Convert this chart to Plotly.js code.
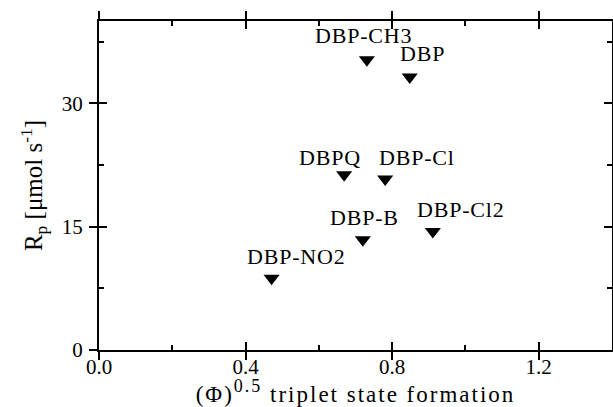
<!DOCTYPE html>
<html>
<head>
<meta charset="utf-8">
<script src="https://cdn.plot.ly/plotly-3.0.1.min.js"></script>
<style>
  html, body { margin: 0; padding: 0; background: #fff; }
  #chart { width: 613px; height: 407px; }
  .annotation-text { letter-spacing: 0.8px; }
  .g-xtitle text { letter-spacing: 2px; }
</style>
</head>
<body>
<div id="chart"></div>
<script>
// Data
const compounds = ["DBP-CH3", "DBP", "DBPQ", "DBP-Cl", "DBP-B", "DBP-Cl2", "DBP-NO2"];
const phiSqrt   = [0.731, 0.848, 0.669, 0.781, 0.720, 0.911, 0.471];
const rateRp    = [35.3, 33.2, 21.3, 20.8, 13.4, 14.4, 8.72];
const xTickVals = [0.0, 0.4, 0.8, 1.2];
const xTickText = ["0.0", "0.4", "0.8", "1.2"];
const yTickVals = [0, 15, 30];
const yTickText = ["0", "15", "30"];

// Label placement (pixels relative to each marker)
const labelDx = [-3, 13, -14, 32, 2, 28, 25];
const labelDy = [24, 23, 17, 21, 22, 22, 21.5];

const serif = "'Liberation Serif', 'Times New Roman', Times, serif";

const traces = [
  {
    x: phiSqrt, y: rateRp, type: "scatter", mode: "markers",
    marker: { symbol: "triangle-down", size: 14, color: "#000" },
    hoverinfo: "x+y", showlegend: false
  },
  {
    x: phiSqrt, y: rateRp, type: "scatter", mode: "markers",
    xaxis: "x2", yaxis: "y2",
    marker: { size: 1, opacity: 0 }, hoverinfo: "skip", showlegend: false
  }
];

const annotations = compounds.map((name, i) => ({
  x: phiSqrt[i], y: rateRp[i], xref: "x", yref: "y",
  text: name, showarrow: false,
  xanchor: "center", yanchor: "middle",
  xshift: labelDx[i], yshift: labelDy[i],
  font: { family: serif, size: 22, color: "#000" }
}));

const layout = {
  width: 613, height: 407,
  margin: { l: 99, r: 1, t: 21, b: 57 },
  paper_bgcolor: "#fff", plot_bgcolor: "#fff",
  font: { family: serif, color: "#000" },
  xaxis: {
    range: [0, 1.4], tickmode: "array", tickvals: xTickVals, ticktext: xTickText,
    ticks: "outside", ticklen: 8, tickwidth: 2, tickcolor: "#000",
    showline: true, linewidth: 2, linecolor: "#000", mirror: "ticks",
    showgrid: false, zeroline: false,
    ticklabelstandoff: -11,
    tickfont: { family: serif, size: 21, color: "#000" },
    title: {
      text: "(Φ)<sup><span style=\"font-size:18px\">0.5</span></sup> triplet state formation",
      font: { family: serif, size: 23, color: "#000" },
      standoff: 24
    }
  },
  yaxis: {
    range: [0, 40], tickmode: "array", tickvals: yTickVals, ticktext: yTickText,
    ticks: "outside", ticklen: 8, tickwidth: 2, tickcolor: "#000",
    showline: true, linewidth: 2, linecolor: "#000", mirror: "ticks",
    showgrid: false, zeroline: false,
    ticklabelstandoff: 2,
    tickfont: { family: serif, size: 21, color: "#000" },
    title: {
      text: "R<sub>p</sub> [μmol s<sup>-1</sup>]",
      font: { family: serif, size: 25, color: "#000" },
      standoff: 12
    }
  },
  xaxis2: {
    overlaying: "x", matches: "x", anchor: "y2",
    ticks: "inside", ticklen: 8, tickwidth: 2, tickcolor: "#000",
    dtick: 0.4, tick0: 0, mirror: "ticks", showline: false,
    showticklabels: false, showgrid: false, zeroline: false,
    minor: { ticks: "inside", dtick: 0.2, ticklen: 5, tickwidth: 2, tickcolor: "#000", showgrid: false }
  },
  yaxis2: {
    overlaying: "y", matches: "y", anchor: "x2",
    ticks: "inside", ticklen: 8, tickwidth: 2, tickcolor: "#000",
    dtick: 15, tick0: 0, mirror: "ticks", showline: false,
    showticklabels: false, showgrid: false, zeroline: false,
    minor: { ticks: "inside", dtick: 7.5, ticklen: 5, tickwidth: 2, tickcolor: "#000", showgrid: false }
  },
  annotations: annotations
};

Plotly.newPlot("chart", traces, layout, { displayModeBar: false, staticPlot: true });
</script>
</body>
</html>
